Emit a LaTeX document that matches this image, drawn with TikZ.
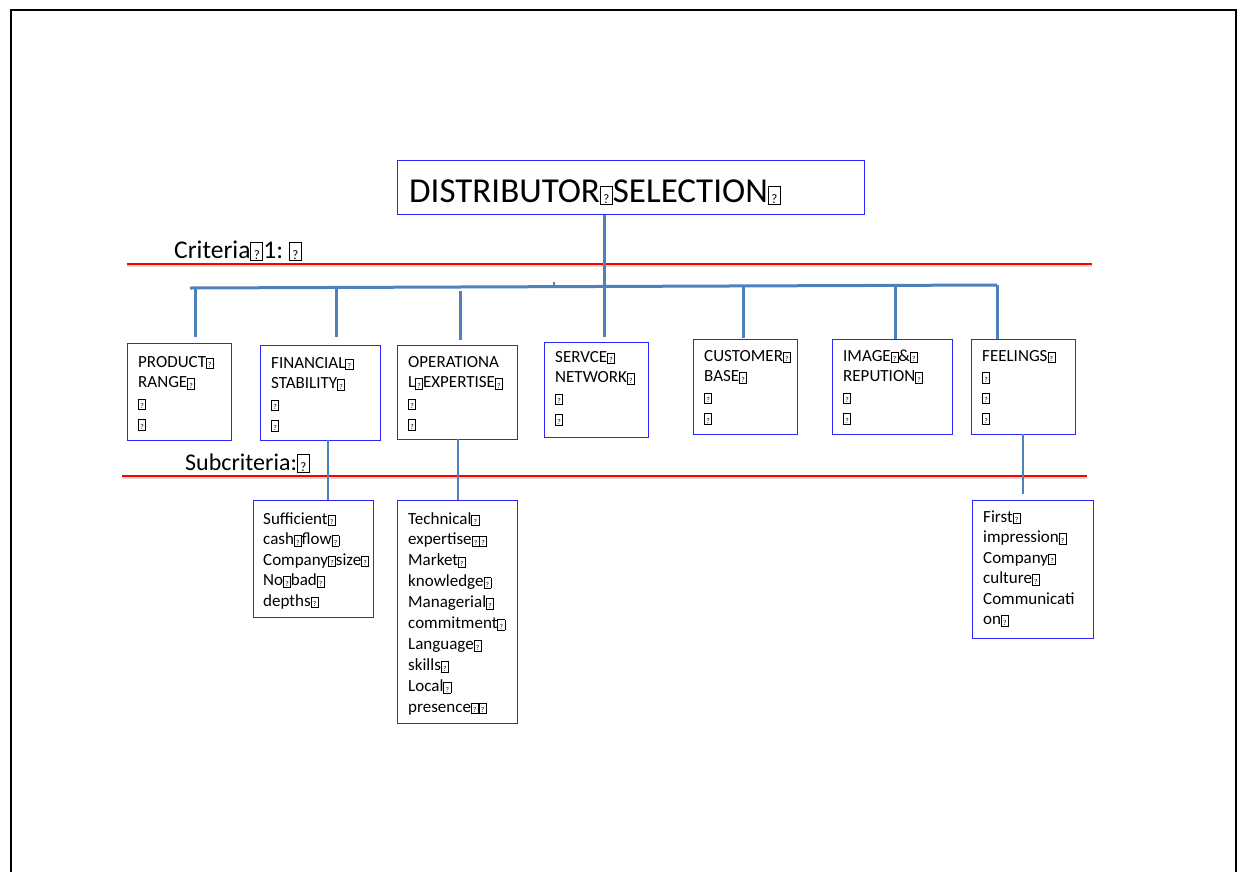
\documentclass[tikz,border=0pt]{standalone}
\usepackage{fontspec}
\setmainfont{Carlito}
\definecolor{conn}{RGB}{79,129,189}
\definecolor{bx}{RGB}{40,40,255}
\newcommand\qb{\raisebox{-0.8pt}{\setlength\fboxsep{0.5pt}\setlength\fboxrule{0.6pt}\fbox{\makebox[5.5pt]{\rule{0pt}{9pt}\fontsize{7.5}{7.5}\selectfont ?}}}}
\newcommand\qB{\raisebox{-1pt}{\setlength\fboxsep{0.8pt}\setlength\fboxrule{0.9pt}\fbox{\makebox[9.5pt]{\rule{0pt}{15.5pt}\fontsize{13}{13}\selectfont ?}}}}
\newcommand\lns[1]{\parbox[t]{120pt}{\raggedright #1}}
\begin{document}
\begin{tikzpicture}[x=1pt,y=-1pt,
  box/.style={draw=bx, line width=1.4pt, inner sep=0pt, anchor=north west},
  txt/.style={anchor=base west, inner sep=0pt, font=\fontsize{17}{20.5}\selectfont},
  bigtxt/.style={anchor=base west, inner sep=0pt},
  conn/.style={draw=conn, line width=3pt},
  connb/.style={draw=conn, line width=2.2pt},
  redline/.style={draw=red, line width=2.5pt},
  shadowline/.style={draw=black!15, line width=2pt}]
\useasboundingbox (0,0) rectangle (1243,871);
\fill[white] (0,0) rectangle (1243,871);
% frame
\draw[line width=2pt] (11,873) -- (11,10) -- (1236,10) -- (1236,873);

% title
\node[box, minimum width=467pt, minimum height=54pt] (ti) at (397,160) {};
\node[bigtxt, font=\fontsize{35}{40}\selectfont] (tit) at (409,202) {DISTRIBUTOR\qB SELECTION\qB};

% criteria labels and red lines
\node[bigtxt, font=\fontsize{25.5}{30}\selectfont] (crit) at (174,258) {Criteria\qB 1:~\qB};
\node[bigtxt, font=\fontsize{24}{30}\selectfont] (subc) at (185,470) {Subcriteria:\qB};
\coordinate (r1a) at (127,264); \coordinate (r1b) at (1092,264);
\coordinate (r2a) at (122,476); \coordinate (r2b) at (1087,476);
\draw[shadowline] ([yshift=-2pt]r1a) -- ([yshift=-2pt]r1b);
\draw[shadowline] ([yshift=-2pt]r2a) -- ([yshift=-2pt]r2b);
\draw[redline] (r1a) -- (r1b);
\draw[redline] (r2a) -- (r2b);

% criteria boxes
\node[box, minimum width=104pt, minimum height=97pt] (pr) at (127,343) {};
\node[box, minimum width=120pt, minimum height=95pt] (fi) at (260,345) {};
\node[box, minimum width=120pt, minimum height=94pt] (op) at (397,345) {};
\node[box, minimum width=104pt, minimum height=95pt] (se) at (544,342) {};
\node[box, minimum width=104pt, minimum height=95pt] (cu) at (693,339) {};
\node[box, minimum width=120pt, minimum height=95pt] (im) at (832,339) {};
\node[box, minimum width=104pt, minimum height=95pt] (fe) at (971,339) {};

\node[txt] (tpr) at (138,367) {\lns{PRODUCT\qb\\RANGE\qb\\\qb\\\qb}};
\node[txt] (tfi) at (271,368) {\lns{FINANCIAL\qb\\STABILITY\qb\\\qb\\\qb}};
\node[txt] (top) at (408,367) {\lns{OPERATIONA\\L\qb EXPERTISE\qb\\\qb\\\qb}};
\node[txt] (tse) at (555,362) {\lns{SERVCE\qb\\NETWORK\qb\\\qb\\\qb}};
\node[txt] (tcu) at (704,361) {\lns{CUSTOMER\qb\\BASE\qb\\\qb\\\qb}};
\node[txt] (tim) at (843,361) {\lns{IMAGE\qb\&\qb\\REPUTION\qb\\\qb\\\qb}};
\node[txt] (tfe) at (982,361) {\lns{FEELINGS\qb\\\qb\\\qb\\\qb}};

% subcriteria boxes
\node[box, minimum width=120pt, minimum height=117pt] (su) at (253,500) {};
\node[box, minimum width=120pt, minimum height=223pt] (te) at (397,500) {};
\node[box, minimum width=121pt, minimum height=138pt] (fr) at (972,500) {};

\node[txt] (tsu) at (263,524) {\lns{Sufficient\qb\\cash\qb flow\qb\\Company\qb size\qb\\No\qb bad\qb\\depths\qb}};
\node[txt, font=\fontsize{17}{20.9}\selectfont] (tte) at (408,524) {\lns{Technical\qb\\expertise\qb\qb\\Market\qb\\knowledge\qb\\Managerial\qb\\commitment\qb\\Language\qb\\skills\qb\\Local\qb\\presence\qb\qb}};
\node[txt] (tfr) at (983,522) {\lns{First\qb\\impression\qb\\Company\qb\\culture\qb\\Communicati\\on\qb}};

% connectors
\coordinate (bl) at (190,288);
\coordinate (br) at (997,285);
\draw[conn] (bl) -- (br);
\coordinate (tk1) at (554,282); \coordinate (tk2) at (554,287);
\draw[draw=conn, line width=2.5pt] (tk1) -- (tk2);

\coordinate (b1) at (195,288);
\coordinate (b2) at (336,288);
\coordinate (b3) at (460,291);
\coordinate (b5) at (743,286);
\coordinate (b6) at (895,286);
\draw[conn, shorten >=6pt] (b1) -- (b1 |- pr.north);
\draw[conn, shorten >=8pt] (b2) -- (b2 |- fi.north);
\draw[conn, shorten >=5pt] (b3) -- (b3 |- op.north);
\draw[conn, shorten >=5pt] (ti.south -| 604,0) -- (se.north -| 604,0);
\draw[conn, shorten >=1pt] (b5) -- (b5 |- cu.north);
\draw[conn] (b6) -- (b6 |- im.north);
\draw[conn] (br) -- (br |- fe.north);

\coordinate (c1) at (328,440);
\coordinate (c2) at (458,439);
\coordinate (c3) at (1023,434);
\draw[connb] (c1) -- (c1 |- su.north);
\draw[connb] (c2) -- (c2 |- te.north);
\draw[connb, shorten >=6pt] (c3) -- (c3 |- fr.north);
\end{tikzpicture}
\end{document}
